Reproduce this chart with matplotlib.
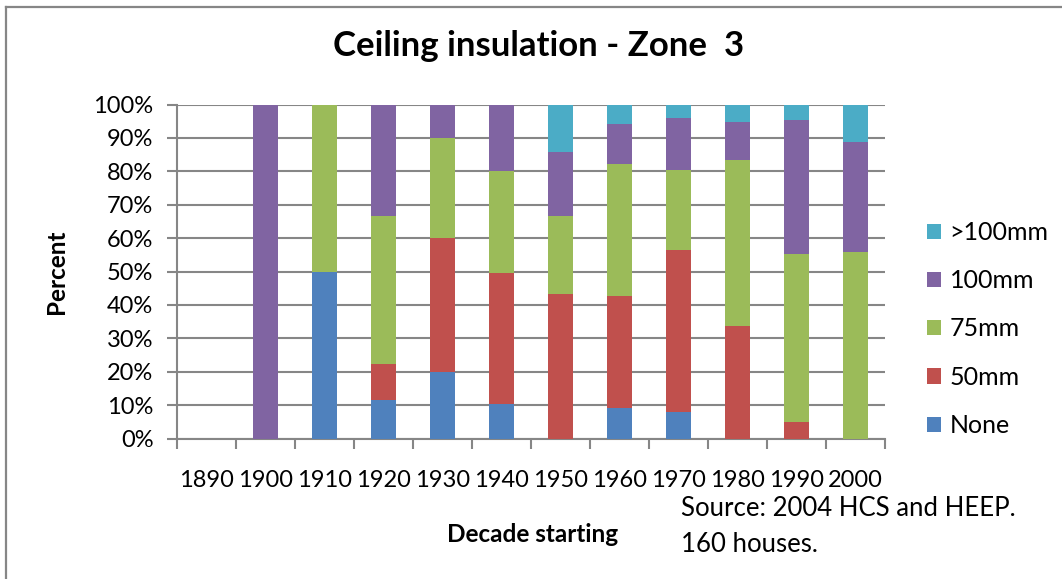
import matplotlib
matplotlib.use('Agg')
import matplotlib.pyplot as plt
from matplotlib.lines import Line2D
import numpy as np

plt.rcParams['font.family'] = ['Lato', 'DejaVu Sans']

decades = ['1890', '1900', '1910', '1920', '1930', '1940', '1950',
           '1960', '1970', '1980', '1990', '2000']
# percent of houses per insulation level (stack order bottom -> top)
none_pct = [0, 0, 50, 11.5, 20, 10.2, 0, 9.1, 7.9, 0, 0, 0]
mm50_pct = [0, 0, 0, 10.9, 40, 39.5, 43.2, 33.5, 48.5, 33.6, 4.9, 0]
mm75_pct = [0, 0, 50, 44.2, 30, 30.5, 23.4, 39.5, 23.9, 49.7, 50.3, 55.8]
mm100_pct = [0, 100, 0, 33.4, 10, 19.8, 19.1, 12.0, 15.6, 11.4, 40.1, 33.0]
over100_pct = [0, 0, 0, 0, 0, 0, 14.3, 5.9, 4.1, 5.3, 4.7, 11.2]

series = [
    ('None', none_pct, '#4F81BD'),
    ('50mm', mm50_pct, '#C0504D'),
    ('75mm', mm75_pct, '#9BBB59'),
    ('100mm', mm100_pct, '#8064A2'),
    ('>100mm', over100_pct, '#4BACC6'),
]

grey = '#868686'
W, H = 1062, 579

fig = plt.figure(figsize=(W / 100, H / 100), dpi=100)
ax = fig.add_axes([177 / W, 1 - 438.5 / H, 708 / W, 334 / H])

x = np.arange(len(decades))
bottom = np.zeros(len(decades))
for name, vals, col in series:
    vals = np.array(vals)
    ax.bar(x, vals, 0.41, bottom=bottom, color=col, label=name, zorder=3)
    bottom += vals

ax.set_xlim(-0.5, len(decades) - 0.5)
ax.set_ylim(0, 100)
ax.set_yticks(np.arange(0, 101, 10))
ax.set_yticklabels([f'{v}%' for v in range(0, 101, 10)], fontsize=17)
ax.set_xticks(x)
ax.set_xticklabels(decades, fontsize=17)
ax.set_xticks(np.arange(-0.5, len(decades), 1), minor=True)
ax.tick_params(axis='x', which='major', length=0, pad=23)
ax.tick_params(axis='x', which='minor', length=7, width=1.5, color=grey)
ax.tick_params(axis='y', length=7, width=1.5, color=grey, pad=10)
ax.grid(axis='y', color=grey, linewidth=1.5, zorder=0)
for s in ['top', 'right']:
    ax.spines[s].set_visible(False)
for s in ['left', 'bottom']:
    ax.spines[s].set_color(grey)
    ax.spines[s].set_linewidth(1.5)

ax.set_ylabel('Percent', fontsize=17.5, fontweight='bold', va='center')
ax.yaxis.set_label_coords((56 - 177) / 708, 0.5)
ax.set_xlabel('Decade starting', fontsize=17.5, fontweight='bold', va='center')
ax.xaxis.set_label_coords((533 - 177) / 708, (438.5 - 534) / 334)

fig.text(539 / W, 1 - 46 / H, 'Ceiling insulation - Zone  3', fontsize=25,
         fontweight='bold', ha='center', va='center')

handles, labels = ax.get_legend_handles_labels()
ax.legend(handles[::-1], labels[::-1], loc='center left',
          bbox_to_anchor=(1.06, (438.5 - 329) / 334), frameon=False,
          fontsize=18, handlelength=0.56, handleheight=0.56,
          labelspacing=1.01, handletextpad=0.33, borderpad=0,
          borderaxespad=0)

fig.text(681 / W, 1 - 509 / H, 'Source: 2004 HCS and HEEP.', fontsize=18.5,
         va='center', ha='left')
fig.text(681 / W, 1 - 545 / H, '160 houses.', fontsize=18.5,
         va='center', ha='left')

# outer chart border (top and left edges visible)
fig.add_artist(Line2D([5.5 / W, 5.5 / W], [0, 1 - 6.5 / H],
                      color=grey, linewidth=1.6, transform=fig.transFigure))
fig.add_artist(Line2D([5.5 / W, 1], [1 - 6.5 / H, 1 - 6.5 / H],
                      color=grey, linewidth=1.6, transform=fig.transFigure))

fig.savefig('out.png', dpi=100)
